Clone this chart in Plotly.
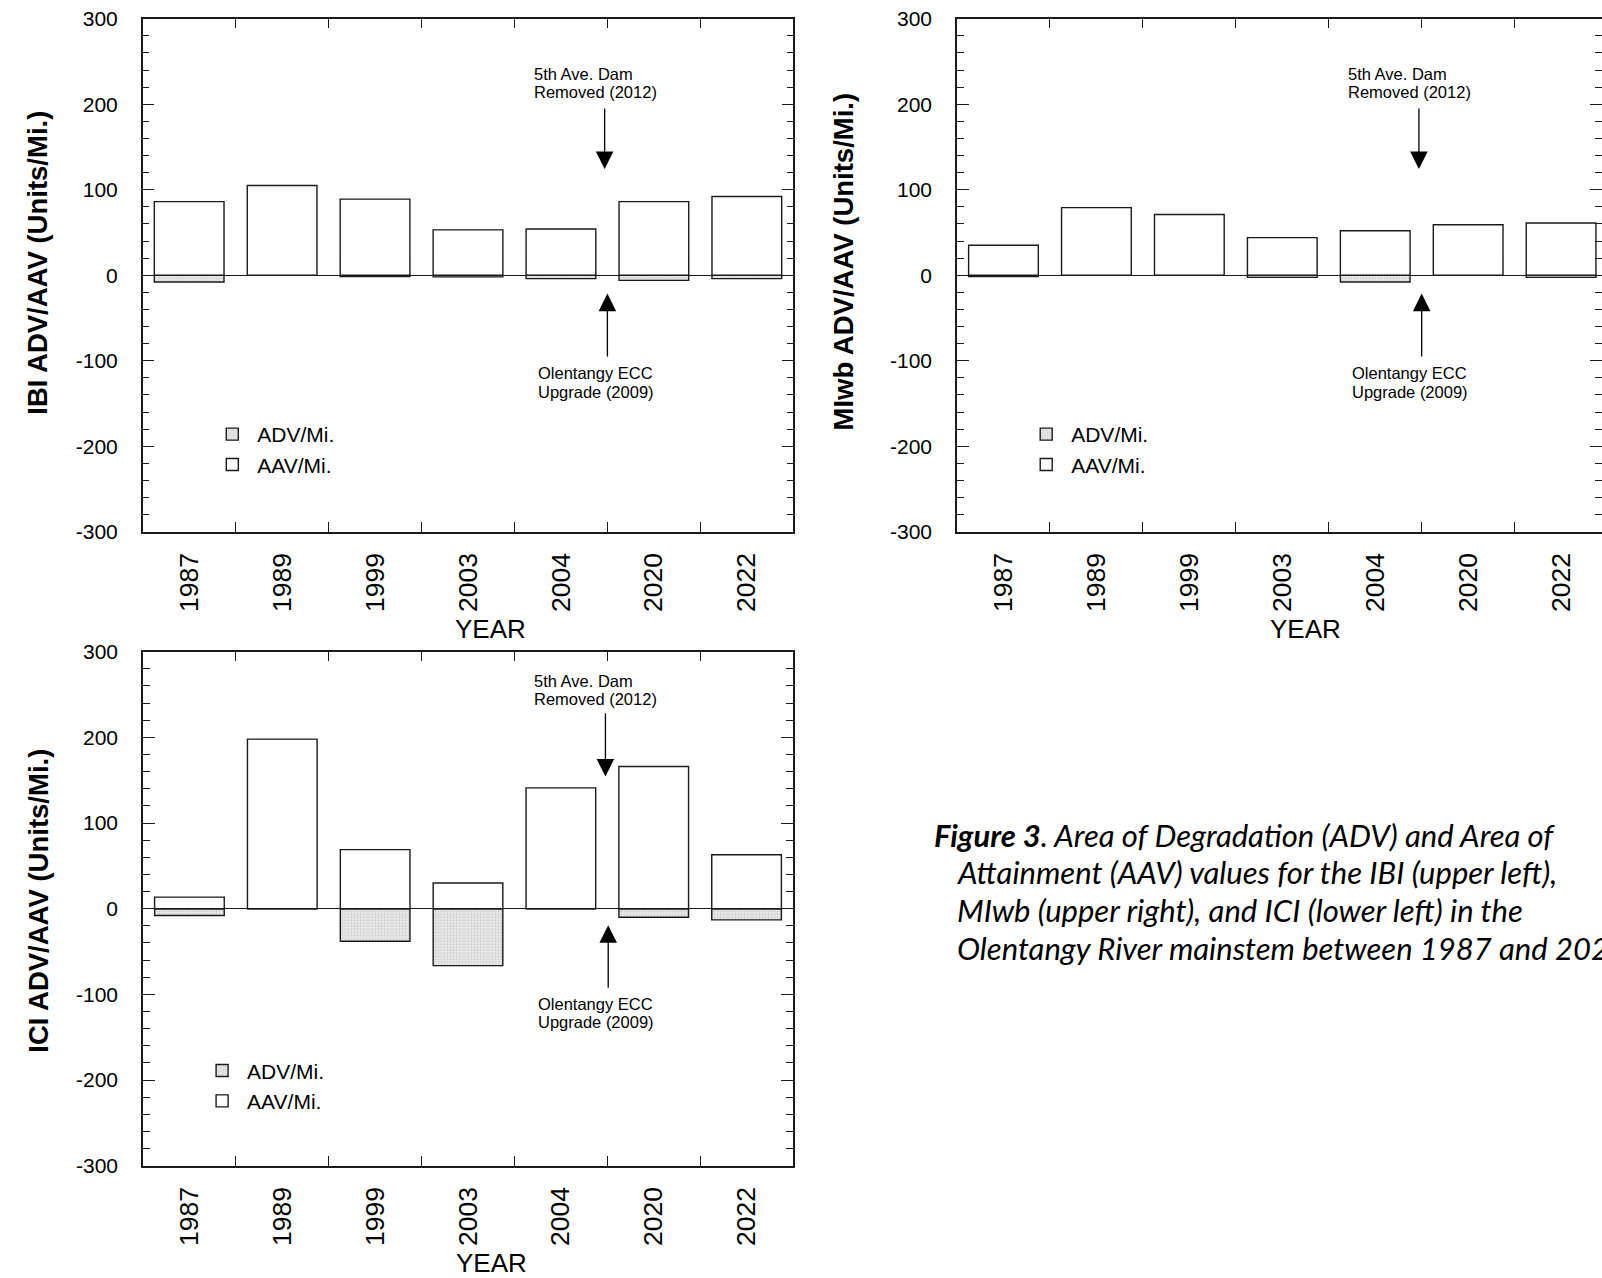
import plotly.graph_objects as go

# Survey years (categorical x axis)
years = ["1987", "1989", "1999", "2003", "2004", "2020", "2022"]

# IBI area of attainment / degradation per mile
ibi_aav = [86, 105, 89, 53, 54, 86, 92]
ibi_adv = [-8, 0, -1.5, -2, -4, -6, -4]

# MIwb area of attainment / degradation per mile
miwb_aav = [35, 79, 71, 44, 52, 59, 61]
miwb_adv = [-1.5, 0, 0, -2.5, -8, 0, -2.5]

# ICI area of attainment / degradation per mile
ici_aav = [13.5, 198, 69, 30, 141, 166, 63]
ici_adv = [-8, 0, -38, -66.5, 0, -10, -13]

# y tick values and their printed labels (plain hyphen for negatives)
y_ticks = [-300, -200, -100, 0, 100, 200, 300]
y_tick_text = ["-300", "-200", "-100", "0", "100", "200", "300"]

W, H = 1602, 1278


def px(x):
    return x / W


def py(y):
    return 1 - y / H


ARIAL = "Arial, Liberation Sans, sans-serif"
INK = "#1a1a1a"

# panel layout in pixels: left, right, top, bottom
panels = [
    dict(aav=ibi_aav, adv=ibi_adv, title="IBI ADV/AAV (Units/Mi.)",
         box=(142.7, 793.3, 18.7, 531.7), xr=[-0.5, 6.5],
         ytitle=(37.7, 263), leg=(211.7, 423),
         dam_y=(235, 213.7), dam_arrow=(4.47, 196.7, 124.2),
         ecc_y=(-114.6, -137), ecc_arrow=(4.50, -96.9, -21.5)),
    dict(aav=miwb_aav, adv=miwb_adv, title="MIwb ADV/AAV (Units/Mi.)",
         box=(957.0, 1602.0, 18.7, 531.7), xr=[-0.5, 6.44],
         ytitle=(843.5, 262), leg=(1025.6, 423),
         dam_y=(235, 213.7), dam_arrow=(4.47, 196.7, 124.2),
         ecc_y=(-114.6, -137), ecc_arrow=(4.50, -96.9, -21.5)),
    dict(aav=ici_aav, adv=ici_adv, title="ICI ADV/AAV (Units/Mi.)",
         box=(143.0, 793.0, 651.7, 1165.7), xr=[-0.5, 6.5],
         ytitle=(37.7, 901), leg=(201.5, 1059.4),
         dam_y=(266, 245), dam_arrow=(4.48, 229.8, 154.2),
         ecc_y=(-111, -132.5), ecc_arrow=(4.51, -94, -19.3)),
]

fig = go.Figure()
layout = dict(
    width=W, height=H,
    margin=dict(l=0, r=0, t=0, b=0, autoexpand=False),
    paper_bgcolor="white", plot_bgcolor="white",
    barmode="overlay",
    showlegend=True,
)
annotations = []

for i, p in enumerate(panels, start=1):
    sfx = "" if i == 1 else str(i)
    xa, ya = "x" + sfx, "y" + sfx
    leg = "legend" + sfx
    left, right, top, bottom = p["box"]

    fig.add_trace(go.Bar(
        x=years, y=p["adv"], name="ADV/Mi.", width=0.75,
        xaxis=xa, yaxis=ya, legend=leg,
        marker=dict(color="#e2e2e2", line=dict(color=INK, width=1.4),
                    pattern=dict(shape=".", fgcolor="#a0a0a0", bgcolor="#e8e8e8",
                                 size=3, solidity=0.25)),
    ))
    fig.add_trace(go.Bar(
        x=years, y=p["aav"], name="AAV/Mi.", width=0.75,
        xaxis=xa, yaxis=ya, legend=leg,
        marker=dict(color="white", line=dict(color=INK, width=1.4)),
    ))

    layout["xaxis" + sfx] = dict(
        domain=[px(left), px(right)], anchor=ya, type="category",
        range=p["xr"], tickson="boundaries", ticks="inside", ticklen=10,
        tickwidth=1.3, tickcolor=INK, showline=True, linecolor=INK,
        linewidth=1.5, mirror="ticks", showgrid=False, zeroline=False,
        automargin=False, tickangle=-90, ticklabelstandoff=9,
        tickfont=dict(family=ARIAL, size=26.5, color="black"),
    )
    layout["yaxis" + sfx] = dict(
        domain=[py(bottom), py(top)], anchor=xa, range=[-300, 300],
        tickmode="array", tickvals=y_ticks, ticktext=y_tick_text,
        ticks="inside", ticklen=12, tickwidth=1.3,
        tickcolor=INK, showline=True, linecolor=INK, linewidth=1.5,
        mirror="ticks", showgrid=False, zeroline=True, zerolinecolor=INK,
        zerolinewidth=1.2, ticklabelstandoff=19, automargin=False,
        tickfont=dict(family=ARIAL, size=21, color="black"),
        minor=dict(tickmode="linear", tick0=0, dtick=20, ticks="inside",
                   ticklen=7, tickwidth=1.2, tickcolor=INK, showgrid=False),
    )
    lx, ly = p["leg"]
    layout[leg] = dict(
        x=px(lx - 4.4), y=py(ly - 9), xanchor="left", yanchor="top",
        bgcolor="rgba(0,0,0,0)", borderwidth=0, traceorder="normal",
        font=dict(family=ARIAL, size=21, color="black"), itemwidth=40,
        tracegroupgap=0,
    )

    # y-axis title
    tx, ty = p["ytitle"]
    annotations.append(dict(
        text="<b>" + p["title"] + "</b>", xref="paper", yref="paper",
        x=px(tx), y=py(ty), textangle=-90, showarrow=False,
        xanchor="center", yanchor="middle",
        font=dict(family=ARIAL, size=27.5, color="black"),
    ))
    # x-axis title
    annotations.append(dict(
        text="YEAR", xref="paper", yref="paper",
        x=px(left + 348), y=py(bottom + 97), showarrow=False,
        xanchor="center", yanchor="middle",
        font=dict(family=ARIAL, size=26, color="black"),
    ))

    # dam removal note and arrow
    for txt, yy in zip(["5th Ave. Dam", "Removed (2012)"], p["dam_y"]):
        annotations.append(dict(
            text=txt, xref=xa, yref=ya, x=3.69, y=yy, showarrow=False,
            xanchor="left", yanchor="middle",
            font=dict(family=ARIAL, size=16.5, color="black"),
        ))
    ax_, tail, tip = p["dam_arrow"]
    annotations.append(dict(
        text="", xref=xa, yref=ya, x=ax_, y=tip, axref=xa, ayref=ya,
        ax=ax_, ay=tail, showarrow=True, arrowhead=2, arrowsize=2.7,
        arrowwidth=1.3, arrowcolor="black", standoff=0,
    ))

    # treatment plant upgrade note and arrow
    for txt, yy in zip(["Olentangy ECC", "Upgrade (2009)"], p["ecc_y"]):
        annotations.append(dict(
            text=txt, xref=xa, yref=ya, x=3.73, y=yy, showarrow=False,
            xanchor="left", yanchor="middle",
            font=dict(family=ARIAL, size=16.5, color="black"),
        ))
    ax_, tail, tip = p["ecc_arrow"]
    annotations.append(dict(
        text="", xref=xa, yref=ya, x=ax_, y=tip, axref=xa, ayref=ya,
        ax=ax_, ay=tail, showarrow=True, arrowhead=2, arrowsize=2.7,
        arrowwidth=1.3, arrowcolor="black", standoff=0,
    ))

# figure caption
CAP = "Lato, Open Sans, sans-serif"
caption = [
    (931.6, 835, "<b><i>Figure 3</i></b><i>. Area of Degradation (ADV) and Area of</i>"),
    (955.0, 872, "<i>Attainment (AAV) values for the IBI (upper left),</i>"),
    (955.0, 910, "<i>MIwb (upper right), and ICI (lower left) in the</i>"),
    (955.0, 948, "<i>Olentangy River mainstem between 1987 and 2022.</i>"),
]
for cx, cy, txt in caption:
    annotations.append(dict(
        text=txt, xref="paper", yref="paper", x=px(cx), y=py(cy),
        showarrow=False, xanchor="left", yanchor="middle",
        font=dict(family=CAP, size=31, color="black"),
    ))

layout["annotations"] = annotations
fig.update_layout(**layout)
fig.write_html("out.html")
